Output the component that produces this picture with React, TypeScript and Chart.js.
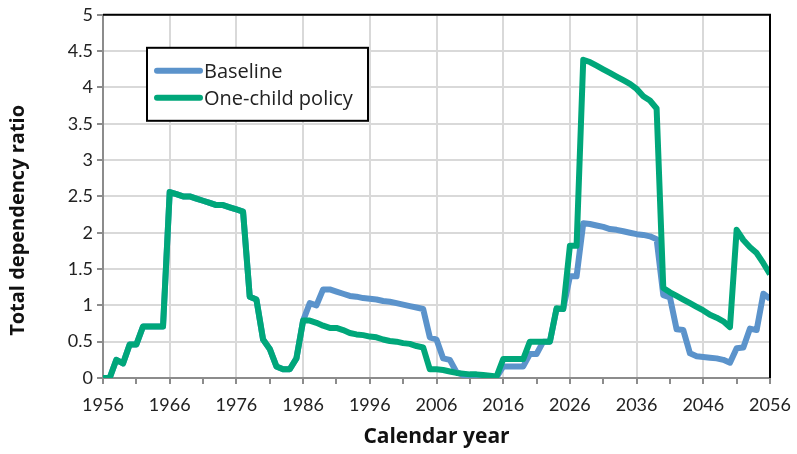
import React, { useEffect, useRef } from "react";
import { Chart, registerables } from "chart.js";

Chart.register(...registerables);

const startYear = 1956;

// Baseline total dependency ratio, one value per calendar year 1956..2056
const baseline = [
  0, 0, 0.25, 0.2, 0.46, 0.46, 0.71, 0.71, 0.71, 0.71,
  2.56, 2.53, 2.5, 2.5, 2.47, 2.44, 2.41, 2.38, 2.38, 2.35,
  2.32, 2.29, 1.12, 1.08, 0.53, 0.4, 0.16, 0.12, 0.12, 0.27,
  0.79, 1.03, 1.0, 1.22, 1.22, 1.19, 1.16, 1.13, 1.12, 1.1,
  1.09, 1.08, 1.06, 1.05, 1.03, 1.01, 0.99, 0.97, 0.95, 0.56,
  0.53, 0.27, 0.25, 0.08, 0.04, 0.03, 0.02, 0.02, 0.01, 0.01,
  0.16, 0.16, 0.16, 0.16, 0.33, 0.33, 0.5, 0.5, 0.95, 0.95,
  1.4, 1.4, 2.13, 2.12, 2.1, 2.08, 2.05, 2.04, 2.02, 2.0,
  1.98, 1.97, 1.95, 1.91, 1.14, 1.11, 0.67, 0.66, 0.34, 0.3,
  0.29, 0.28, 0.27, 0.25, 0.21, 0.41, 0.42, 0.68, 0.66, 1.16,
  1.09,
];

// One-child policy total dependency ratio, 1956..2056
const oneChild = [
  0, 0, 0.25, 0.2, 0.46, 0.46, 0.71, 0.71, 0.71, 0.71,
  2.56, 2.53, 2.5, 2.5, 2.47, 2.44, 2.41, 2.38, 2.38, 2.35,
  2.32, 2.29, 1.12, 1.08, 0.53, 0.4, 0.16, 0.12, 0.12, 0.27,
  0.79, 0.79, 0.76, 0.72, 0.69, 0.69, 0.66, 0.62, 0.6, 0.59,
  0.57, 0.56, 0.53, 0.51, 0.5, 0.48, 0.47, 0.44, 0.42, 0.12,
  0.12, 0.11, 0.09, 0.07, 0.06, 0.05, 0.05, 0.04, 0.03, 0.02,
  0.26, 0.26, 0.26, 0.26, 0.5, 0.5, 0.5, 0.5, 0.96, 0.95,
  1.82, 1.82, 4.38, 4.35, 4.3, 4.25, 4.2, 4.15, 4.1, 4.05,
  3.98, 3.88, 3.82, 3.71, 1.24, 1.18, 1.13, 1.08, 1.03, 0.98,
  0.93, 0.87, 0.83, 0.78, 0.7, 2.04, 1.9, 1.8, 1.72, 1.58,
  1.43,
];

const years = baseline.map((_, i) => startYear + i);

const seriesNames = ["Baseline", "One-child policy"];
const seriesColors = ["#5B93CB", "#00A77A"];

const xMin = 1956;
const xMax = 2056;
const xStep = 5;
const yMin = 0;
const yMax = 5;
const yStep = 0.5;

const xTitle = "Calendar year";
const yTitle = "Total dependency ratio";

const TICK_FONT = "Lato";
const LEGEND_FONT = "'Open Sans'";
const TITLE_FONT = "'Open Sans'";

const framePlugin = {
  id: "frame",
  afterDatasetsDraw(chart: any) {
    const { ctx, chartArea } = chart;
    ctx.save();
    ctx.strokeStyle = "#000";
    ctx.lineWidth = 2;
    ctx.beginPath();
    ctx.moveTo(chartArea.left, chartArea.top);
    ctx.lineTo(chartArea.right, chartArea.top);
    ctx.lineTo(chartArea.right, chartArea.bottom);
    ctx.stroke();
    ctx.restore();
  },
  afterDraw(chart: any) {
    const { ctx, chartArea } = chart;
    // y-axis title (placed slightly below centre, as in the original)
    ctx.save();
    ctx.translate(18, (chartArea.top + chartArea.bottom) / 2 + 24);
    ctx.rotate(-Math.PI / 2);
    ctx.fillStyle = "#111";
    ctx.font = `bold 20px ${TITLE_FONT}`;
    ctx.textAlign = "center";
    ctx.textBaseline = "middle";
    ctx.fillText(yTitle, 0, 0);
    ctx.restore();

    // legend box
    const bx = chartArea.left + 44;
    const by = chartArea.top + 33;
    const bw = 221;
    const bh = 73;
    ctx.save();
    ctx.fillStyle = "#fff";
    ctx.fillRect(bx, by, bw, bh);
    ctx.strokeStyle = "#000";
    ctx.lineWidth = 2;
    ctx.strokeRect(bx, by, bw, bh);
    chart.data.datasets.forEach((ds: any, i: number) => {
      const y = by + 23 + i * 27;
      ctx.strokeStyle = ds.borderColor;
      ctx.lineWidth = 6;
      ctx.lineCap = "round";
      ctx.beginPath();
      ctx.moveTo(bx + 10, y);
      ctx.lineTo(bx + 53, y);
      ctx.stroke();
      ctx.fillStyle = "#222";
      ctx.font = `20px ${LEGEND_FONT}`;
      ctx.textBaseline = "middle";
      ctx.textAlign = "left";
      ctx.fillText(ds.label, bx + 57, y + 1);
    });
    ctx.restore();
  },
};

export default function App() {
  const ref = useRef<HTMLCanvasElement | null>(null);

  useEffect(() => {
    document.body.style.margin = "0";
    if (!ref.current) return;
    const chart = new Chart(ref.current, {
      type: "line",
      data: {
        labels: years,
        datasets: [
          {
            label: seriesNames[0],
            data: baseline,
            borderColor: seriesColors[0],
            backgroundColor: seriesColors[0],
            borderWidth: 6,
            pointRadius: 0,
            tension: 0,
            borderJoinStyle: "round",
            order: 1,
          },
          {
            label: seriesNames[1],
            data: oneChild,
            borderColor: seriesColors[1],
            backgroundColor: seriesColors[1],
            borderWidth: 6,
            pointRadius: 0,
            tension: 0,
            borderJoinStyle: "round",
            order: 0,
          },
        ],
      },
      options: {
        responsive: false,
        animation: false,
        layout: { padding: { left: 4, right: 27, top: 12, bottom: 4 } },
        plugins: {
          legend: { display: false },
          tooltip: { enabled: false },
        },
        scales: {
          x: {
            type: "linear",
            min: xMin,
            max: xMax,
            afterFit: (s: any) => {
              s.height = 72;
              s.paddingLeft = 0;
              s.paddingRight = 0;
            },
            ticks: {
              stepSize: xStep,
              autoSkip: false,
              maxRotation: 0,
              padding: 10,
              color: "#222",
              font: { family: TICK_FONT, size: 18 },
              callback: (v: any) => ((v - xMin) % 10 === 0 ? String(v) : ""),
            },
            grid: {
              color: (c: any) =>
                c.tick && (c.tick.value - xMin) % 10 === 0 ? "#d9d9d9" : "rgba(0,0,0,0)",
              lineWidth: 2,
              tickColor: "#8c8c8c",
              tickLength: 6,
              tickWidth: 2,
            },
            border: { color: "#8c8c8c", width: 2 },
            title: {
              display: true,
              text: xTitle,
              color: "#111",
              font: { family: TITLE_FONT, size: 21, weight: "bold" },
              padding: { top: 0, bottom: 0 },
            },
          },
          y: {
            type: "linear",
            min: yMin,
            max: yMax,
            afterFit: (s: any) => {
              s.width = 99;
            },
            ticks: {
              stepSize: yStep,
              padding: 4,
              color: "#222",
              font: { family: TICK_FONT, size: 18 },
              callback: (v: any) => String(v),
            },
            grid: {
              color: "#d9d9d9",
              lineWidth: 2,
              tickColor: "#8c8c8c",
              tickLength: 6,
              tickWidth: 2,
            },
            border: { color: "#8c8c8c", width: 2 },
            title: { display: false },
          },
        },
      },
      plugins: [framePlugin],
    });
    return () => chart.destroy();
  }, []);

  return (
    <div style={{ width: 797, height: 454 }}>
      <canvas ref={ref} width={797} height={454} />
    </div>
  );
}
